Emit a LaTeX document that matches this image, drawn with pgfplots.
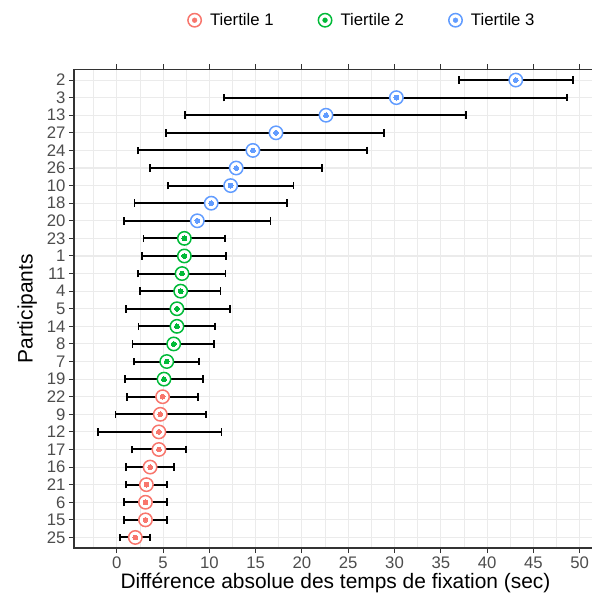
\documentclass[border=0pt]{standalone}
\usepackage{pgfplots}
\pgfplotsset{compat=1.18}
\usepackage{pgfplotstable}
\usepackage{fontspec}
\setmainfont{Liberation Sans}
\definecolor{c1}{HTML}{F8766D}
\definecolor{c2}{HTML}{00BA38}
\definecolor{c3}{HTML}{619CFF}
\definecolor{gridc}{HTML}{EBEBEB}
\definecolor{framec}{HTML}{333333}
\definecolor{tickc}{HTML}{4D4D4D}
% y x lo hi
\pgfplotstableread{
y x lo hi
27 43.1 37.0 49.3
26 30.2 11.6 48.6
25 22.6 7.4 37.7
24 17.2 5.3 28.9
23 14.7 2.3 27.0
22 12.9 3.6 22.2
21 12.3 5.5 19.1
20 10.2 1.9 18.4
19 8.7 0.8 16.6
}\tthree
\pgfplotstableread{
y x lo hi
18 7.3 2.9 11.7
17 7.3 2.75 11.8
16 7.05 2.3 11.75
15 6.9 2.5 11.2
14 6.5 1.0 12.25
13 6.5 2.35 10.6
12 6.15 1.7 10.5
11 5.4 1.85 8.85
10 5.1 0.9 9.35
}\ttwo
\pgfplotstableread{
y x lo hi
9 4.95 1.1 8.8
8 4.7 -0.15 9.6
7 4.55 -2.05 11.3
6 4.55 1.65 7.5
5 3.6 1.0 6.2
4 3.2 1.0 5.4
3 3.1 0.8 5.4
2 3.1 0.8 5.4
1 2.0 0.35 3.6
}\tone
\pgfplotsset{
  outer/.style={forget plot, only marks, color=#1, mark=*, mark size=6.7bp,
    mark options={draw=#1, fill=white, line width=1.5bp},
    error bars/.cd, x dir=both, x explicit,
    error bar style={draw=black, line width=2bp},
    error mark=|,
    error mark options={draw=black, fill=black, line width=1.7bp, mark size=3.8bp}},
  inner/.style={forget plot, only marks, color=#1, mark=*, mark size=2.4bp, mark options={draw=#1, fill=#1, line width=0pt}},
}
\begin{document}
\begin{tikzpicture}
\path[use as bounding box] (-74bp,-51bp) rectangle (518bp,548bp);
\begin{axis}[
  at={(0,0)}, anchor=south west,
  scale only axis, width=523bp, height=478.5bp,
  xmin=-4.62, xmax=51.87, ymin=0.4, ymax=27.6,
  xtick={0,5,...,50},
  minor xtick={-2.5,2.5,7.5,12.5,17.5,22.5,27.5,32.5,37.5,42.5,47.5},
  ytick={1,...,27},
  yticklabels={25,15,6,21,16,17,12,9,22,19,7,8,14,5,4,11,1,23,20,18,10,26,24,27,13,3,2},
  grid=both,
  major grid style={gridc, line width=1.1bp},
  minor grid style={gridc, line width=0.6bp},
  tick align=outside,
  major tick length=5bp, minor tick length=0pt,
  tick style={framec, line width=1bp},
  axis line style={framec, line width=1.1bp},
  tick label style={font=\fontsize{16.8}{18}\selectfont, text=tickc},
  /pgf/number format/assume math mode=true,
  xlabel={Différence absolue des temps de fixation (sec)},
  ylabel={Participants},
  label style={font=\fontsize{21}{24}\selectfont},
  xlabel style={yshift=2bp},
  ylabel style={yshift=3bp},
  legend columns=3,
  legend style={draw=none, fill=none, font=\fontsize{16.8}{18}\selectfont,
    at={(axis description cs:0.216,1.103)}, anchor=west, inner sep=0pt,
    /tikz/every odd column/.append style={column sep=6bp},
    /tikz/every even column/.append style={column sep=42bp}},
  clip=false,
]
\addlegendimage{legend image code/.code={\draw[c1,fill=white,line width=1.5bp] (0bp,0bp) circle (6.7bp); \fill[c1] (0bp,0bp) circle (2.4bp);}}
\addlegendentry{Tiertile 1}
\addlegendimage{legend image code/.code={\draw[c2,fill=white,line width=1.5bp] (0bp,0bp) circle (6.7bp); \fill[c2] (0bp,0bp) circle (2.4bp);}}
\addlegendentry{Tiertile 2}
\addlegendimage{legend image code/.code={\draw[c3,fill=white,line width=1.5bp] (0bp,0bp) circle (6.7bp); \fill[c3] (0bp,0bp) circle (2.4bp);}}
\addlegendentry{Tiertile 3}
\addplot[outer=c1] table[x=x, y=y, x error plus expr=\thisrow{hi}-\thisrow{x}, x error minus expr=\thisrow{x}-\thisrow{lo}] {\tone};
\addplot[inner=c1] table[x=x,y=y] {\tone};
\addplot[outer=c2] table[x=x, y=y, x error plus expr=\thisrow{hi}-\thisrow{x}, x error minus expr=\thisrow{x}-\thisrow{lo}] {\ttwo};
\addplot[inner=c2] table[x=x,y=y] {\ttwo};
\addplot[outer=c3] table[x=x, y=y, x error plus expr=\thisrow{hi}-\thisrow{x}, x error minus expr=\thisrow{x}-\thisrow{lo}] {\tthree};
\addplot[inner=c3] table[x=x,y=y] {\tthree};
\end{axis}
\end{tikzpicture}
\end{document}
